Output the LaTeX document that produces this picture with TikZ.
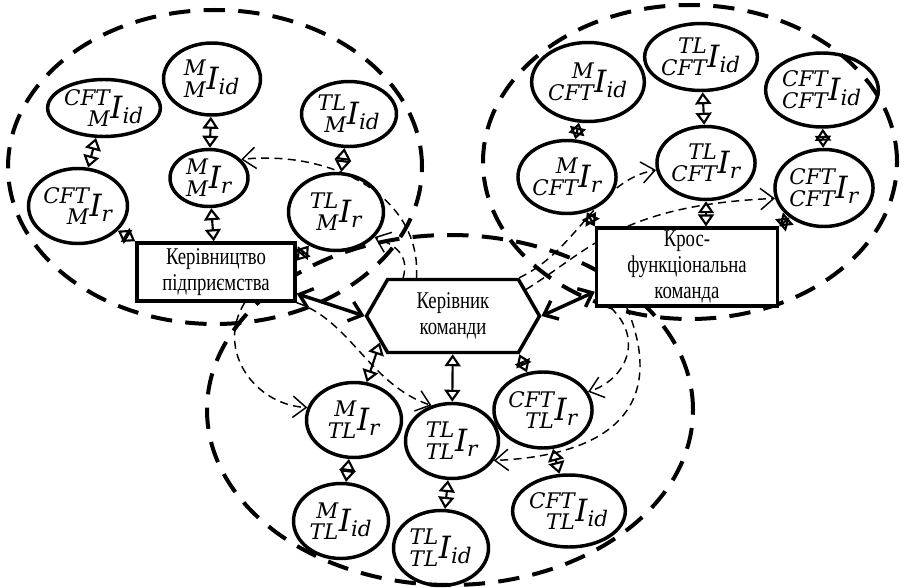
\documentclass[tikz,border=0pt]{standalone}
\usepackage{fontspec}
\usepackage{mathtools}
\setmainfont{Liberation Serif}
\newfontfamily\boxfont{Liberation Serif}[FakeStretch=0.78]
\newfontfamily\labfont{DejaVu Serif}
\usetikzlibrary{shapes.geometric,shapes.symbols,arrows.meta,backgrounds}

% index with two prescripts
\newcommand{\lab}[3]{$\prescript{\text{\labfont\itshape #1}}{\text{\labfont\itshape #2}}{\text{\labfont\itshape I}}_{\text{\labfont\itshape #3}}$}

\begin{document}
\begin{tikzpicture}[x=0.75pt,y=-0.75pt,
    zone/.style={line width=3pt,dash pattern=on 16pt off 10pt},
    info/.style 2 args={ellipse,draw,line width=2.6pt,inner sep=0pt,
      minimum width=#1*0.75pt,minimum height=#2*0.75pt,font=\fontsize{23}{27}\selectfont},
    unit/.style={draw,fill=white,line width=2.6pt,align=center,inner sep=2pt,
      font=\boxfont\fontsize{18}{19.5}\selectfont},
    link/.style={line width=1.6pt,{Triangle[open,length=9pt,width=12pt]}-{Triangle[open,length=9pt,width=12pt]}},
    flow/.style={line width=1.1pt,dash pattern=on 6pt off 4pt,-{Straight Barb[length=10pt,width=16pt]}},
    main/.style={line width=2.6pt,{Straight Barb[length=9pt,width=15pt]}-{Straight Barb[length=9pt,width=15pt]}}]
    \useasboundingbox (0,0) rectangle (906,588);

    % three areas
    \draw[zone] (215,167) ellipse [x radius=155.25pt, y radius=117.75pt];
    \draw[zone] (690,162) ellipse [x radius=155.25pt, y radius=117.75pt];
    \draw[zone] (450,410) ellipse [x radius=182.25pt, y radius=131.25pt];

    % management
    \node[info={102}{57}] (cmid) at (104,108) {\lab{CFT}{M}{id}};
    \node[info={97}{72}] (mmid) at (212,79) {\lab{M}{M}{id}};
    \node[info={95}{65}] (tmid) at (349,114) {\lab{TL}{M}{id}};
    \node[info={99}{75}] (cmr) at (78,206) {\lab{CFT}{M}{r}};
    \node[info={78}{57}] (mmr) at (209,178) {\lab{M}{M}{r}};
    \node[info={95}{77}] (tmr) at (336,212) {\lab{TL}{M}{r}};

    % cross-functional team
    \node[info={91}{79}] (mcid) at (588,82) {\lab{M}{CFT}{id}};
    \node[info={102}{67}] (tcid) at (701,57) {\lab{TL}{CFT}{id}};
    \node[info={110}{74}] (ccid) at (822,90) {\lab{CFT}{CFT}{id}};
    \node[info={93}{73}] (mcr) at (567,177) {\lab{M}{CFT}{r}};
    \node[info={95}{73}] (tcr) at (706,163) {\lab{TL}{CFT}{r}};
    \node[info={95}{77}] (ccr) at (824,188) {\lab{CFT}{CFT}{r}};

    % team leader
    \node[info={95}{75}] (mtr) at (354,420) {\lab{M}{TL}{r}};
    \node[info={93}{75}] (ttr) at (452,441) {\lab{TL}{TL}{r}};
    \node[info={93}{76}] (ctr) at (543,410) {\lab{CFT}{TL}{r}};
    \node[info={95}{75}] (mtid) at (341,521) {\lab{M}{TL}{id}};
    \node[info={95}{75}] (ttid) at (441,548) {\lab{TL}{TL}{id}};
    \node[info={102}{72}] (ctid) at (569,511) {\lab{CFT}{TL}{id}};

    \node[unit,minimum width=118.5pt,minimum height=43.5pt] (mgmt) at (216,272) {Керівництво\\підприємства};
    \node[unit,minimum width=135.75pt,minimum height=56.25pt] (cft) at (687,267) {Крос-\\функціональна\\команда};
    \node[unit,signal,signal to=west and east,signal pointer angle=120,
      minimum width=129.75pt,minimum height=54.75pt] (lead) at (453,316) {Керівник\\команди};

    % dashed flows
    \begin{scope}[on background layer]
    \draw[flow] (lead.134) .. controls (422,195) and (330,150) .. (mmr.30);
    \draw[flow] (lead.143) .. controls (410,255) and (395,245) .. (tmr.-33);
    \draw[flow] (lead.30) .. controls (578,250) and (598,180) .. (tcr.188);
    \draw[flow] (lead.20) .. controls (590,250) and (620,205) .. (ccr.192);
    \draw[flow] (mgmt.-47) .. controls (215,350) and (255,405) .. (mtr.165);
    \draw[flow] (mgmt.south east) .. controls (350,320) and (370,385) .. (ttr.120);
    \draw[flow] (cft.208) .. controls (645,340) and (625,380) .. (ctr.22);
    \draw[flow] (cft.214) .. controls (665,400) and (620,455) .. (ttr.-25);
    \end{scope}

    % links inside the areas
    \draw[link] (cmid) -- (cmr);
    \draw[link] (mmid) -- (mmr);
    \draw[link] (tmid) -- (tmr);
    \draw[link] (mmr) -- (mgmt);
    \draw[link] (cmr) -- (mgmt.north west);
    \draw[link] (tmr) -- (mgmt.8);
    \draw[link] (mcid) -- (mcr);
    \draw[link] (tcid) -- (tcr);
    \draw[link] (ccid) -- (ccr);
    \draw[link] (mcr) -- (cft.north west);
    \draw[link] (tcr) -- (tcr |- cft.north);
    \draw[link] (ccr) -- (cft.north east);
    \draw[link] (lead.200) -- (mtr);
    \draw[link] (lead) -- (ttr);
    \draw[link] (lead.330) -- (ctr);
    \draw[link] (mtr) -- (mtid);
    \draw[link] (ttr) -- (ttid);
    \draw[link] (ctr) -- (ctid);

    \draw[main] (mgmt.-15) -- (lead.west);
    \draw[main] (lead.east) -- (cft.-165);
\end{tikzpicture}
\end{document}
